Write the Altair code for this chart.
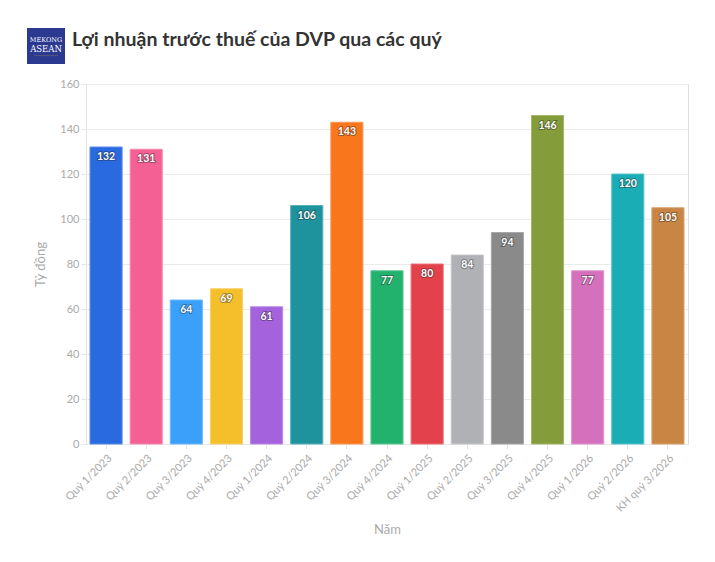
import altair as alt
import pandas as pd

quarters = ["Quý 1/2023", "Quý 2/2023", "Quý 3/2023", "Quý 4/2023", "Quý 1/2024",
            "Quý 2/2024", "Quý 3/2024", "Quý 4/2024", "Quý 1/2025", "Quý 2/2025",
            "Quý 3/2025", "Quý 4/2025", "Quý 1/2026", "Quý 2/2026", "KH quý 3/2026"]
profits = [132, 131, 64, 69, 61, 106, 143, 77, 80, 84, 94, 146, 77, 120, 105]
colors = ["#2a6ae0", "#f45f94", "#3aa0fa", "#f4bf2a", "#a463dc", "#1e939e", "#fa761c",
          "#23b26e", "#e3414b", "#afb1b5", "#8a8a8a", "#849c39", "#d470bc", "#1aadb5", "#c98544"]
strokes = ["#5a8ae8", "#f88bb2", "#6db9fb", "#f7d266", "#bb8ae5", "#55b0b8", "#fb9a58",
           "#5ec792", "#ea7078", "#c7c8cb", "#a8a8a8", "#a3b66a", "#e098cf", "#55c4ca", "#d8a372"]

df = pd.DataFrame({"q": quarters, "v": profits, "c": colors, "s": strokes})

FONT = "Lato"
W, H = 602, 360

x = alt.X("q:N", sort=quarters, title="Năm",
          scale=alt.Scale(paddingInner=0.2, paddingOuter=0.1),
          axis=alt.Axis(labelAngle=-45, labelColor="#aaaaaa", labelFontSize=11,
                        labelFont=FONT, titleFont=FONT, titleFontSize=13,
                        titleColor="#aaaaaa", titleFontWeight="normal", titlePadding=10,
                        domainColor="#e6e6e6", tickColor="#e6e6e6", tickSize=5,
                        labelPadding=3))
y = alt.Y("v:Q", title="Tỷ đồng",
          scale=alt.Scale(domain=[0, 160]),
          axis=alt.Axis(values=list(range(0, 161, 20)), labelColor="#aaaaaa",
                        labelFontSize=11, labelFont=FONT, titleFont=FONT,
                        titleFontSize=13, titleColor="#aaaaaa", titleFontWeight="normal",
                        titlePadding=12, gridColor="#ebebeb", domainColor="#e6e6e6",
                        tickColor="#e6e6e6", tickSize=5))

bars = alt.Chart(df).mark_bar(strokeWidth=1).encode(
    x=x, y=y,
    color=alt.Color("c:N", scale=None),
    stroke=alt.Stroke("s:N", scale=None),
)

label_outline = alt.Chart(df).mark_text(
    font=FONT, fontSize=10.5, fontWeight="bold", dy=10, baseline="middle",
    stroke="#222222", strokeWidth=2, strokeOpacity=0.4, fill="#222222", fillOpacity=0.2,
).encode(x=alt.X("q:N", sort=quarters), y="v:Q", text="v:Q")

labels = alt.Chart(df).mark_text(
    font=FONT, fontSize=10.5, fontWeight="bold", dy=10, baseline="middle", color="white",
).encode(x=alt.X("q:N", sort=quarters), y="v:Q", text="v:Q")

head = pd.DataFrame({"t": ["Lợi nhuận trước thuế của DVP qua các quý"]})
title = alt.Chart(head).mark_text(
    font=FONT, fontSize=19.5, fontWeight="bold", color="#333333", align="left",
    baseline="alphabetic",
).encode(x=alt.value(-14), y=alt.value(-38), text="t:N")

logo = alt.Chart(head).mark_rect(color="#2b3990").encode(
    x=alt.value(-59), x2=alt.value(-21), y=alt.value(-56), y2=alt.value(-20))
logo_t1 = alt.Chart(pd.DataFrame({"t": ["MEKONG"]})).mark_text(
    font="DejaVu Serif", fontSize=6.5, color="white", align="center", baseline="middle"
).encode(x=alt.value(-40), y=alt.value(-44), text="t:N")
logo_t2 = alt.Chart(pd.DataFrame({"t": ["ASEAN"]})).mark_text(
    font="DejaVu Serif", fontSize=8.5, color="white", align="center", baseline="middle"
).encode(x=alt.value(-40), y=alt.value(-35), text="t:N")
logo_t3 = alt.Chart(pd.DataFrame({"t": ["——————"]})).mark_text(
    font="DejaVu Sans", fontSize=4, color="#d8b04a", align="center", baseline="middle"
).encode(x=alt.value(-40), y=alt.value(-28), text="t:N")

chart = alt.layer(bars, label_outline, labels, title, logo, logo_t1, logo_t2, logo_t3).properties(
    width=W, height=H,
    autosize=alt.AutoSizeParams(type="none"),
    padding={"left": 78, "top": 76, "right": 19, "bottom": 110},
).configure_view(stroke=None).configure(background="white")

chart.save("out.html", embed_options={"renderer": "svg", "actions": False})
